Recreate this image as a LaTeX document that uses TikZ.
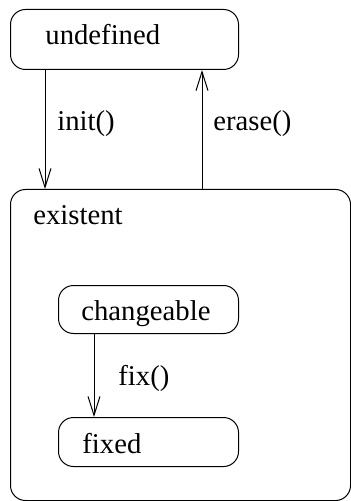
\documentclass[tikz,border=0pt]{standalone}
\usepackage{fontspec}
\newfontfamily\statefont{Liberation Serif}
\usetikzlibrary{arrows.meta}
\begin{document}
\begin{tikzpicture}[x=0.5pt,y=-0.5pt,
  state/.style={draw, line width=0.5pt, rounded corners=7.5pt, inner sep=0pt, anchor=north west},
  txt/.style={anchor=base west, inner sep=0pt, font=\statefont\fontsize{14.35}{17}\selectfont},
  tr/.style={draw, line width=0.5pt, -{Straight Barb[length=9.5pt,width=6pt]}}]
\useasboundingbox (0,0) rectangle (351,501);

% states
\node[state, minimum width=114pt, minimum height=30pt] (undefined) at (10,9) {};
\node[state, minimum width=170pt, minimum height=155.5pt] (existent) at (10,189) {};
\node[state, minimum width=90pt, minimum height=24pt] (changeable) at (58,285) {};
\node[state, minimum width=90pt, minimum height=24.5pt] (fixed) at (58,417) {};

% state names
\node[txt] (undefined-name) at (45,45) {undefined};
\node[txt] (existent-name) at (33,225) {existent};
\node[txt] (changeable-name) at (81,320) {changeable};
\node[txt] (fixed-name) at (82,453) {fixed};

% transitions
\draw[tr] ([xshift=17.5pt]undefined.south west) coordinate (init-start)
  -- (init-start |- existent.north);
\draw[tr] ([xshift=96pt]existent.north west) coordinate (erase-start)
  -- (erase-start |- undefined.south);
\draw[tr] ([xshift=18pt]changeable.south west) coordinate (fix-start)
  -- (fix-start |- fixed.north);

% transition labels
\node[txt] (init-label) at (57,131) {init()};
\node[txt] (erase-label) at (213,131) {erase()};
\node[txt] (fix-label) at (118,385) {fix()};
\end{tikzpicture}
\end{document}
